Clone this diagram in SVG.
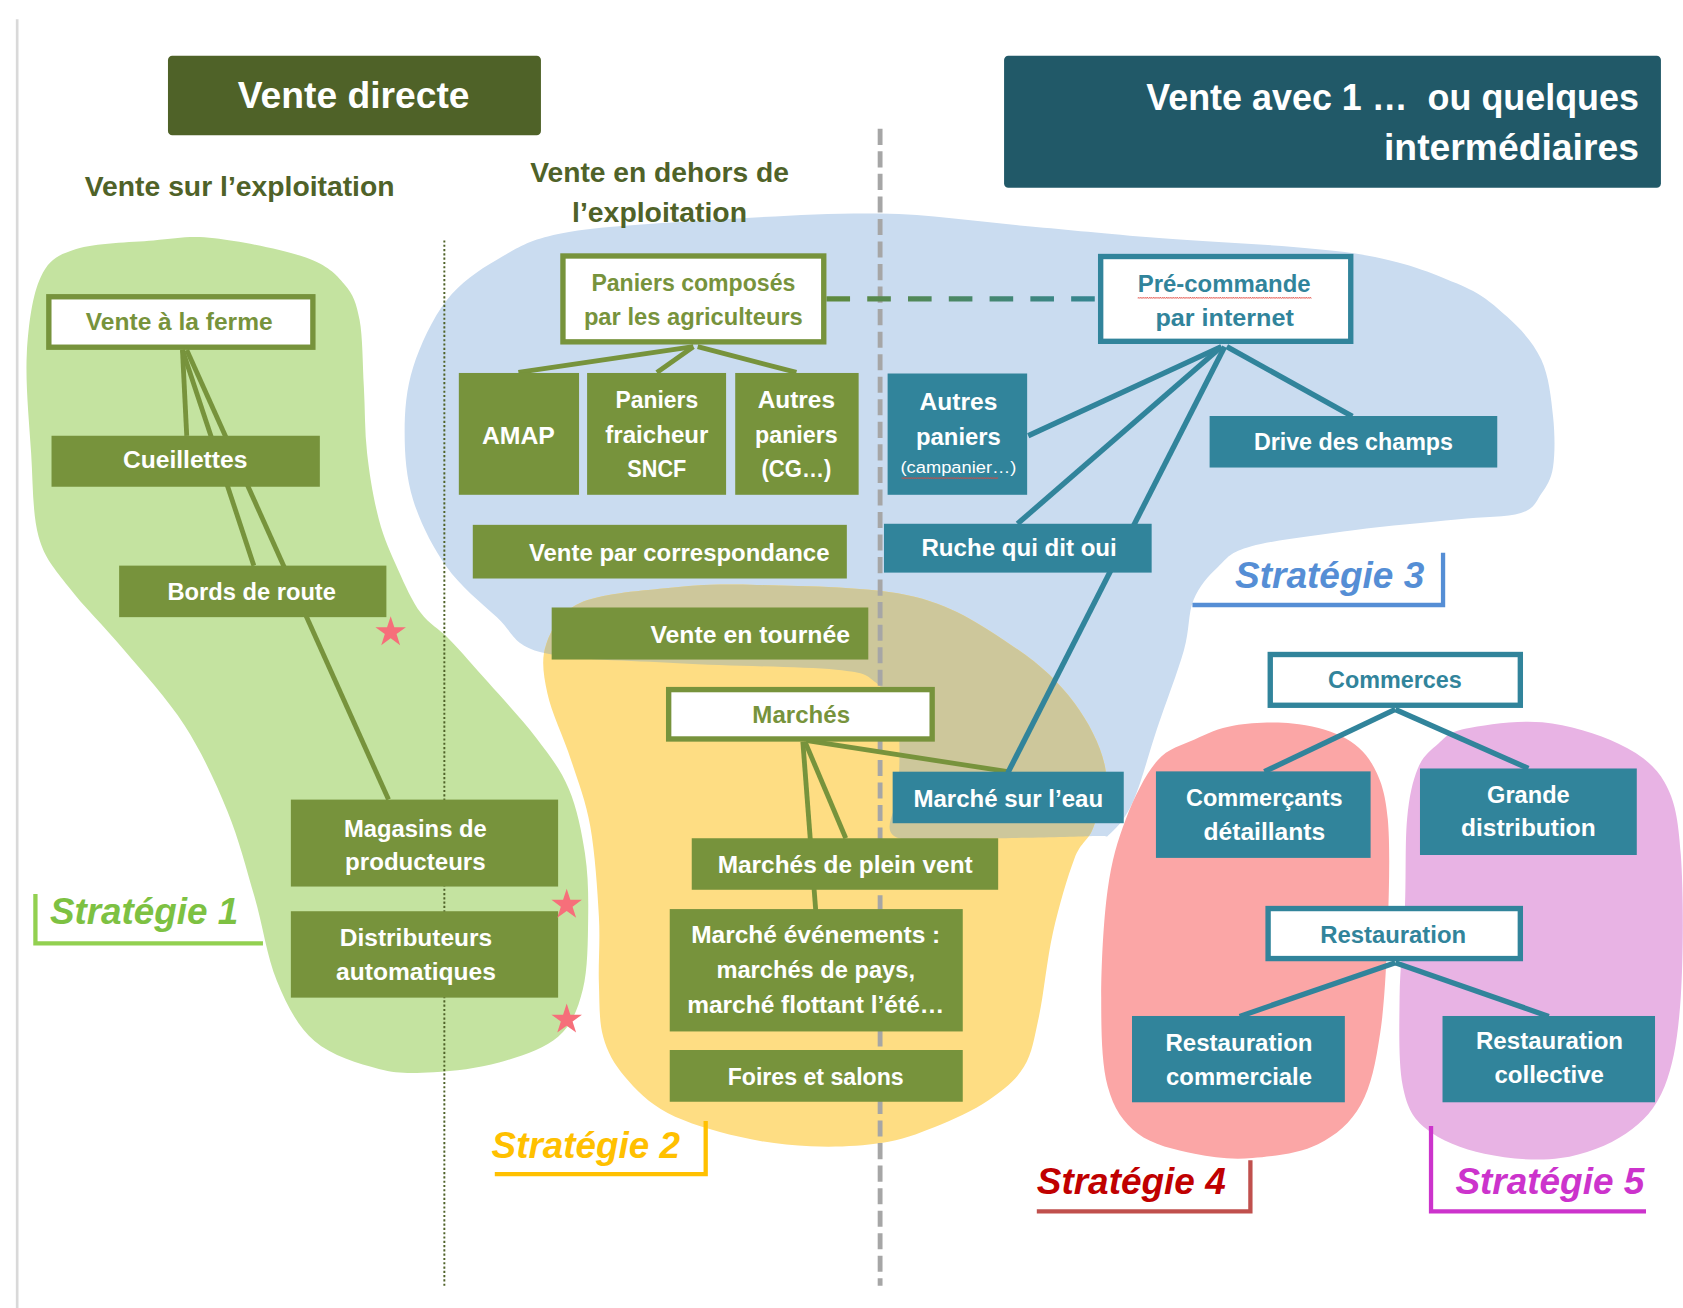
<svg xmlns="http://www.w3.org/2000/svg" xmlns:xlink="http://www.w3.org/1999/xlink" width="1683" height="1308" viewBox="0 0 1683 1308">
<style>
text { font-family: "Liberation Sans", Arial, sans-serif; font-weight: bold; }
.lw { font-size: 22px; fill: #ffffff; text-anchor: middle; }
.lg { font-size: 22px; fill: #77933c; text-anchor: middle; }
.lt { font-size: 22px; fill: #31849b; text-anchor: middle; }
.sm { font-size: 15px; font-weight: normal; }
.title { font-size: 34px; fill: #ffffff; }
.head { font-size: 26px; fill: #4f6228; text-anchor: middle; }
.strat { font-size: 34px; font-style: italic; }
.gb { fill: #77933c; }
.tb { fill: #31849b; }
.gw { fill: #ffffff; stroke: #77933c; stroke-width: 5; }
.tw { fill: #ffffff; stroke: #31849b; stroke-width: 5; }
.cg { stroke: #77933c; stroke-width: 4.5; fill: none; }
.ct { stroke: #31849b; stroke-width: 5; fill: none; }
.br { fill: none; stroke-width: 4; }
.star { fill: #f66f7a; }
</style>
<defs>
<clipPath id="clipBlue" clipPathUnits="userSpaceOnUse">
<path d="M377,403 C377,382.3 378.5,362.5 385,342 S403,296.7 416,280 S444.8,252.5 463,242 S491.5,223.2 525,217 S614.8,208 664,205 S772.3,198.2 820,199 S908.2,206.3 950,210 S1019.2,216.7 1071,221 S1213.3,228.8 1261,236 S1333.2,254.2 1357,264 S1390.8,283.2 1404,295 S1428.8,319.5 1436,335 S1445.2,371.3 1447,388 S1448.8,423 1447,435 S1441,452.8 1436,460 S1430.2,474 1417,478 S1383,481.3 1357,484 S1292.8,489.8 1261,494 S1187,503.3 1166,509 S1144,519.7 1135,528 S1117.3,546 1112,559 S1108.7,586 1103,606 S1085.8,655.7 1078,679 S1063.2,729.8 1056,746 S1041.3,770.5 1035,776 S1036.2,778.2 1018,779 S956.5,780.8 926,781 S849.8,787 835,780 S836.5,753 837,739 S838.3,708.3 838,696 S838.7,675 835,665 S825.3,642.8 816,636 S809.7,627 779,624 S677.7,620.7 632,618 S533.2,615.2 505,608 S477.8,588.3 463,575 S429,546.2 416,528 S391.5,486.8 385,466 S377,423.7 377,403 Z"/>
</clipPath>
<path id="star" d="M0,-13 L2.94,-4.05 L12.36,-4.02 L4.76,1.55 L7.64,10.52 L0,5 L-7.64,10.52 L-4.76,1.55 L-12.36,-4.02 L-2.94,-4.05 Z"/>
<linearGradient id="dashGrad" gradientUnits="userSpaceOnUse" x1="770" y1="0" x2="1023" y2="0">
<stop offset="0" stop-color="#5f8a3c"/>
<stop offset="1" stop-color="#348592"/>
</linearGradient>
<pattern id="wavy" width="4" height="3" patternUnits="userSpaceOnUse">
<path d="M0,2.2 L1,0.8 L2,2.2 L3,0.8 L4,2.2" stroke="#e0463c" stroke-width="0.7" fill="none"/>
</pattern>
</defs>
<rect x="0" y="0" width="1683" height="1308" fill="#ffffff"/>
<g transform="scale(1.0733)">

<g id="strategy-areas">
<path id="area-strategie-1" fill="#c4e3a0" d="M25,329 C26.5,301.7 30.3,274.2 38,258 S53.5,237.7 71,232 S121.5,225.7 143,224 S176.3,219.3 200,222 S264.8,232.8 285,240 S312.7,255.3 321,265 S332,282.2 335,298 S337.8,339.3 339,360 S339.7,401.3 342,422 S348.2,465.8 353,484 S364.5,516.5 371,531 S384,560.2 392,571 S408.5,585.2 419,596 S441.5,620.7 455,636 S487.5,671.5 500,688 S522.5,717.2 530,735 S542,775 545,795 S548.3,833.8 548,855 S547.7,903.5 543,922 S533,954.7 520,966 S484.3,984.5 465,990 S422.7,998 404,999 S371.5,1000.8 353,996 S308.8,983.7 293,970 S267.3,936.5 258,914 S244.7,861.3 237,835 S222.8,782.5 212,756 S188.2,701.2 172,676 S133,626.5 115,605 S77.2,564.5 64,547 S41.8,520.8 36,500 S30.8,450.5 29,422 S23.5,356.3 25,329 Z"/>
<path id="area-strategie-3" fill="#cadcf0" d="M377,403 C377,382.3 378.5,362.5 385,342 S403,296.7 416,280 S444.8,252.5 463,242 S491.5,223.2 525,217 S614.8,208 664,205 S772.3,198.2 820,199 S908.2,206.3 950,210 S1019.2,216.7 1071,221 S1213.3,228.8 1261,236 S1333.2,254.2 1357,264 S1390.8,283.2 1404,295 S1428.8,319.5 1436,335 S1445.2,371.3 1447,388 S1448.8,423 1447,435 S1441,452.8 1436,460 S1430.2,474 1417,478 S1383,481.3 1357,484 S1292.8,489.8 1261,494 S1187,503.3 1166,509 S1144,519.7 1135,528 S1117.3,546 1112,559 S1108.7,586 1103,606 S1085.8,655.7 1078,679 S1063.2,729.8 1056,746 S1041.3,770.5 1035,776 S1036.2,778.2 1018,779 S956.5,780.8 926,781 S849.8,787 835,780 S836.5,753 837,739 S838.3,708.3 838,696 S838.7,675 835,665 S825.3,642.8 816,636 S809.7,627 779,624 S677.7,620.7 632,618 S533.2,615.2 505,608 S477.8,588.3 463,575 S429,546.2 416,528 S391.5,486.8 385,466 S377,423.7 377,403 Z"/>
<path id="area-strategie-2" fill="#fedd83" d="M509,600 C514,586 521.5,570.7 540,562 S592.5,550.8 620,548 S666.3,543.7 705,545 S812,546.3 852,556 S920.2,586.5 945,603 S986.8,636 1001,655 S1027,697.8 1030,717 S1023.8,756.2 1019,770 S1007.3,783.5 1001,800 S986.5,844.5 981,869 S972.5,926.2 968,947 S961.8,981 954,994 S934.8,1015.7 921,1025 S887.7,1043.3 871,1050 S840.3,1062 821,1065 S777.2,1069 755,1068 S710.2,1064.2 688,1059 S639.7,1046.3 622,1037 S592,1014.8 582,1003 S566,980.5 562,966 S558.7,934.7 558,916 S559.3,878.3 558,854 S554.3,794.3 550,770 S538.7,728.7 532,708 S513.8,664 510,646 S504,614 509,600 Z"/>
<path id="area-overlap-2-3" fill="#cdc79b" clip-path="url(#clipBlue)" d="M509,600 C514,586 521.5,570.7 540,562 S592.5,550.8 620,548 S666.3,543.7 705,545 S812,546.3 852,556 S920.2,586.5 945,603 S986.8,636 1001,655 S1027,697.8 1030,717 S1023.8,756.2 1019,770 S1007.3,783.5 1001,800 S986.5,844.5 981,869 S972.5,926.2 968,947 S961.8,981 954,994 S934.8,1015.7 921,1025 S887.7,1043.3 871,1050 S840.3,1062 821,1065 S777.2,1069 755,1068 S710.2,1064.2 688,1059 S639.7,1046.3 622,1037 S592,1014.8 582,1003 S566,980.5 562,966 S558.7,934.7 558,916 S559.3,878.3 558,854 S554.3,794.3 550,770 S538.7,728.7 532,708 S513.8,664 510,646 S504,614 509,600 Z"/>
<path id="area-strategie-4" fill="#fba6a6" d="M1150,676 C1165.2,673.5 1187.3,672.3 1204,674 S1237.5,679.5 1250,686 S1271.8,700.2 1279,713 S1290.7,738 1293,763 S1294.2,829.8 1293,863 S1290.2,934.3 1286,962 S1277.7,1011.7 1268,1029 S1244.8,1057.7 1228,1066 S1186.2,1077.5 1167,1079 S1130.8,1078.8 1113,1075 S1073.5,1066.5 1060,1056 S1037.7,1033.2 1032,1012 S1026,959.5 1026,929 S1028.2,856.7 1032,829 S1041.3,783 1049,763 S1067.3,721.3 1078,709 S1101,694.5 1113,689 S1134.8,678.5 1150,676 Z"/>
<path id="area-strategie-5" fill="#e8b3e4" d="M1365,679 C1381.2,675.7 1413.2,670.7 1437,673 S1489,683.7 1508,693 S1541.3,711.8 1551,729 S1563.5,762.7 1566,796 S1568.5,893 1566,929 S1559.5,990.8 1551,1012 S1531.2,1044.8 1515,1056 S1476,1075.8 1454,1079 S1403.8,1079.5 1383,1075 S1341.7,1062.5 1329,1052 S1311.2,1032.5 1307,1012 S1303.7,956.7 1304,929 S1307.8,873.7 1309,846 S1309,784.7 1311,763 S1316.2,727.7 1321,716 S1332.7,699.2 1340,693 S1348.8,682.3 1365,679 Z"/>
</g>

<g id="dividers">
<line x1="16" y1="18" x2="16" y2="1219" stroke="#d9d9d9" stroke-width="2.5"/>
<line x1="414" y1="224" x2="414" y2="1198" stroke="#4f6228" stroke-width="1.8" stroke-dasharray="2 2"/>
<line x1="820" y1="120" x2="820" y2="1198" stroke="#a6a6a6" stroke-width="4.5" stroke-dasharray="15 6"/>
</g>

<g id="connectors">
<line class="cg" x1="170" y1="326" x2="174" y2="406"/>
<line class="cg" x1="170" y1="326" x2="236.5" y2="527"/>
<line class="cg" x1="174" y1="326" x2="362" y2="745"/>
<line class="cg" x1="646" y1="323" x2="483" y2="347"/>
<line class="cg" x1="646" y1="323" x2="612" y2="347"/>
<line class="cg" x1="650" y1="323" x2="742" y2="347"/>
<line x1="770" y1="278.5" x2="1023" y2="278.5" stroke="url(#dashGrad)" stroke-width="5" stroke-dasharray="22 16"/>
<line class="cg" x1="748" y1="691" x2="760" y2="848"/>
<line class="cg" x1="750" y1="691" x2="788" y2="781"/>
<line class="cg" x1="752" y1="690" x2="939" y2="719"/>
<line class="ct" x1="1138" y1="323" x2="958" y2="406"/>
<line class="ct" x1="1138" y1="323" x2="948" y2="488"/>
<line class="ct" x1="1141" y1="323" x2="939" y2="720"/>
<line class="ct" x1="1143" y1="323" x2="1260" y2="388"/>
<line class="ct" x1="1300" y1="661" x2="1178" y2="719"/>
<line class="ct" x1="1300" y1="661" x2="1424" y2="716"/>
<line class="ct" x1="1300" y1="897" x2="1155" y2="947"/>
<line class="ct" x1="1300" y1="897" x2="1443" y2="947"/>
</g>

<g id="title-vente-directe">
<rect x="156.5" y="52" width="347.5" height="74" rx="4" fill="#4f6228"/>
<text class="title" x="329.5" y="101" text-anchor="middle" textLength="216" lengthAdjust="spacingAndGlyphs">Vente directe</text>
</g>
<g id="title-intermediaires">
<rect x="935.5" y="52" width="612" height="123" rx="4" fill="#215968"/>
<text class="title" x="1527" y="102.5" text-anchor="end" textLength="459" lengthAdjust="spacingAndGlyphs">Vente avec 1 …&#160; ou quelques</text>
<text class="title" x="1527" y="149" text-anchor="end" textLength="237.5" lengthAdjust="spacingAndGlyphs">intermédiaires</text>
</g>
<g id="header-sur-exploitation">
<text class="head" x="223.3" y="182.4" textLength="288.6" lengthAdjust="spacingAndGlyphs">Vente sur l’exploitation</text>
</g>
<g id="header-hors-exploitation">
<text class="head" x="614.5" y="169.6" textLength="241" lengthAdjust="spacingAndGlyphs">Vente en dehors de</text>
<text class="head" x="614.5" y="207" textLength="163" lengthAdjust="spacingAndGlyphs">l’exploitation</text>
</g>

<g id="node-vente-ferme">
<rect class="gw" x="45.5" y="276.5" width="246" height="47"/>
<text class="lg" x="167" y="307.5" textLength="174" lengthAdjust="spacingAndGlyphs">Vente à la ferme</text>
</g>
<g id="node-cueillettes">
<rect class="gb" x="48" y="406" width="250" height="47.5"/>
<text class="lw" x="172.5" y="436.5" textLength="116" lengthAdjust="spacingAndGlyphs">Cueillettes</text>
</g>
<g id="node-bords-route">
<rect class="gb" x="111" y="527" width="249" height="48"/>
<text class="lw" x="234.5" y="559" textLength="157" lengthAdjust="spacingAndGlyphs">Bords de route</text>
</g>
<g id="node-magasins">
<rect class="gb" x="271" y="745" width="249" height="81"/>
<text class="lw" x="387" y="780" textLength="133" lengthAdjust="spacingAndGlyphs">Magasins de</text>
<text class="lw" x="387" y="811" textLength="131" lengthAdjust="spacingAndGlyphs">producteurs</text>
</g>
<g id="node-distributeurs">
<rect class="gb" x="271" y="849" width="249" height="80.5"/>
<text class="lw" x="387.6" y="881.5" textLength="142" lengthAdjust="spacingAndGlyphs">Distributeurs</text>
<text class="lw" x="387.6" y="913" textLength="149" lengthAdjust="spacingAndGlyphs">automatiques</text>
</g>

<g id="node-paniers-composes">
<rect class="gw" x="524.5" y="238.5" width="243" height="80"/>
<text class="lg" x="646" y="270.8" textLength="190" lengthAdjust="spacingAndGlyphs">Paniers composés</text>
<text class="lg" x="646" y="302.8" textLength="204" lengthAdjust="spacingAndGlyphs">par les agriculteurs</text>
</g>
<g id="node-amap">
<rect class="gb" x="427.5" y="347.5" width="112" height="113.5"/>
<text class="lw" x="483" y="414" textLength="68" lengthAdjust="spacingAndGlyphs">AMAP</text>
</g>
<g id="node-paniers-sncf">
<rect class="gb" x="547" y="347.5" width="129.5" height="113.5"/>
<text class="lw" x="612" y="380.5" textLength="77" lengthAdjust="spacingAndGlyphs">Paniers</text>
<text class="lw" x="612" y="413" textLength="96" lengthAdjust="spacingAndGlyphs">fraicheur</text>
<text class="lw" x="612" y="444.7" textLength="55" lengthAdjust="spacingAndGlyphs">SNCF</text>
</g>
<g id="node-autres-paniers-cg">
<rect class="gb" x="685" y="347.5" width="115" height="113.5"/>
<text class="lw" x="742" y="380.5" textLength="72" lengthAdjust="spacingAndGlyphs">Autres</text>
<text class="lw" x="742" y="413" textLength="77" lengthAdjust="spacingAndGlyphs">paniers</text>
<text class="lw" x="742" y="444.7" textLength="65" lengthAdjust="spacingAndGlyphs">(CG…)</text>
</g>
<g id="node-correspondance">
<rect class="gb" x="440.5" y="489" width="348.5" height="50"/>
<text class="lw" x="632.8" y="522.7" textLength="280" lengthAdjust="spacingAndGlyphs">Vente par correspondance</text>
</g>
<g id="node-tournee">
<rect class="gb" x="514" y="566" width="295" height="48.5"/>
<text class="lw" x="699" y="599.4" textLength="186" lengthAdjust="spacingAndGlyphs">Vente en tournée</text>
</g>
<g id="node-marches">
<rect class="gw" x="623" y="642.5" width="245.5" height="46"/>
<text class="lg" x="746.5" y="674" textLength="91" lengthAdjust="spacingAndGlyphs">Marchés</text>
</g>
<g id="node-plein-vent">
<rect class="gb" x="644.5" y="781" width="285.5" height="48"/>
<text class="lw" x="787.5" y="813.7" textLength="237.6" lengthAdjust="spacingAndGlyphs">Marchés de plein vent</text>
</g>
<g id="node-evenements">
<rect class="gb" x="624" y="847" width="273" height="114"/>
<text class="lw" x="760" y="879" textLength="232" lengthAdjust="spacingAndGlyphs">Marché événements :</text>
<text class="lw" x="760" y="911.5" textLength="185" lengthAdjust="spacingAndGlyphs">marchés de pays,</text>
<text class="lw" x="760" y="944" textLength="239.5" lengthAdjust="spacingAndGlyphs">marché flottant l’été…</text>
</g>
<g id="node-foires">
<rect class="gb" x="624" y="978.3" width="273" height="48.2"/>
<text class="lw" x="760" y="1011" textLength="164" lengthAdjust="spacingAndGlyphs">Foires et salons</text>
</g>

<g id="node-precommande">
<rect class="tw" x="1025.5" y="239" width="233" height="79"/>
<text class="lt" x="1140.6" y="272.5" textLength="161" lengthAdjust="spacingAndGlyphs">Pré-commande</text>
<rect x="1060" y="276" width="162" height="3" fill="url(#wavy)"/>
<text class="lt" x="1141" y="303.5" textLength="129" lengthAdjust="spacingAndGlyphs">par internet</text>
</g>
<g id="node-autres-paniers-campanier">
<rect class="tb" x="827" y="348" width="130" height="113"/>
<text class="lw" x="893" y="382" textLength="72.5" lengthAdjust="spacingAndGlyphs">Autres</text>
<text class="lw" x="893" y="414.4" textLength="79" lengthAdjust="spacingAndGlyphs">paniers</text>
<text class="lw sm" x="893" y="440.7" textLength="108" lengthAdjust="spacingAndGlyphs">(campanier…)</text>
<rect x="840" y="444" width="90" height="3" fill="url(#wavy)"/>
</g>
<g id="node-drive">
<rect class="tb" x="1127" y="387.6" width="268" height="48"/>
<text class="lw" x="1261" y="419.3" textLength="185.5" lengthAdjust="spacingAndGlyphs">Drive des champs</text>
</g>
<g id="node-ruche">
<rect class="tb" x="823.6" y="488" width="249.4" height="45.5"/>
<text class="lw" x="949.5" y="518" textLength="182" lengthAdjust="spacingAndGlyphs">Ruche qui dit oui</text>
</g>
<g id="node-marche-eau">
<rect class="tb" x="831.7" y="719" width="215.3" height="48"/>
<text class="lw" x="939.4" y="751.6" textLength="176.7" lengthAdjust="spacingAndGlyphs">Marché sur l’eau</text>
</g>
<g id="node-commerces">
<rect class="tw" x="1183.5" y="609.8" width="233" height="47.3"/>
<text class="lt" x="1299.7" y="641.2" textLength="124.6" lengthAdjust="spacingAndGlyphs">Commerces</text>
</g>
<g id="node-detaillants">
<rect class="tb" x="1077" y="718.7" width="200" height="80.6"/>
<text class="lw" x="1178" y="751" textLength="146" lengthAdjust="spacingAndGlyphs">Commerçants</text>
<text class="lw" x="1178" y="782.6" textLength="113.5" lengthAdjust="spacingAndGlyphs">détaillants</text>
</g>
<g id="node-grande-distribution">
<rect class="tb" x="1323" y="716" width="202" height="80.6"/>
<text class="lw" x="1424" y="747.7" textLength="77" lengthAdjust="spacingAndGlyphs">Grande</text>
<text class="lw" x="1424" y="779.3" textLength="125.5" lengthAdjust="spacingAndGlyphs">distribution</text>
</g>
<g id="node-restauration">
<rect class="tw" x="1181.5" y="846.5" width="235" height="46.6"/>
<text class="lt" x="1298" y="878.5" textLength="136" lengthAdjust="spacingAndGlyphs">Restauration</text>
</g>
<g id="node-restauration-commerciale">
<rect class="tb" x="1054.7" y="946.6" width="198.3" height="80.4"/>
<text class="lw" x="1154.4" y="979" textLength="137" lengthAdjust="spacingAndGlyphs">Restauration</text>
<text class="lw" x="1154.4" y="1010.5" textLength="136" lengthAdjust="spacingAndGlyphs">commerciale</text>
</g>
<g id="node-restauration-collective">
<rect class="tb" x="1344" y="946.6" width="198" height="80.4"/>
<text class="lw" x="1443.7" y="977.3" textLength="137" lengthAdjust="spacingAndGlyphs">Restauration</text>
<text class="lw" x="1443.4" y="1009" textLength="102" lengthAdjust="spacingAndGlyphs">collective</text>
</g>

<g id="stars">
<use href="#star" class="star" transform="translate(364,589) scale(1.15)"/>
<use href="#star" class="star" transform="translate(528,843) scale(1.15)"/>
<use href="#star" class="star" transform="translate(528,950) scale(1.15)"/>
</g>

<g id="label-strategie-1">
<polyline class="br" stroke="#92d050" points="33,833 33,879 245,879"/>
<text class="strat" x="46.5" y="860.5" fill="#7dc142" textLength="175.5" lengthAdjust="spacingAndGlyphs">Stratégie 1</text>
</g>
<g id="label-strategie-2">
<polyline class="br" stroke="#ffc000" points="461,1094 657.5,1094 657.5,1044.5"/>
<text class="strat" x="458" y="1079" fill="#ffc000" textLength="175.6" lengthAdjust="spacingAndGlyphs">Stratégie 2</text>
</g>
<g id="label-strategie-3">
<polyline class="br" stroke="#558ed5" points="1111,563.7 1344.5,563.7 1344.5,515"/>
<text class="strat" x="1150.7" y="548" fill="#558ed5" textLength="176.3" lengthAdjust="spacingAndGlyphs">Stratégie 3</text>
</g>
<g id="label-strategie-4">
<polyline class="br" stroke="#c0504d" points="966,1128.7 1165,1128.7 1165,1081"/>
<text class="strat" x="966" y="1112.8" fill="#c00000" textLength="176" lengthAdjust="spacingAndGlyphs">Stratégie 4</text>
</g>
<g id="label-strategie-5">
<polyline class="br" stroke="#cc33cc" points="1333.3,1049 1333.3,1128.7 1533.6,1128.7"/>
<text class="strat" x="1356" y="1112.8" fill="#cc33cc" textLength="176" lengthAdjust="spacingAndGlyphs">Stratégie 5</text>
</g>

</g>
</svg>
